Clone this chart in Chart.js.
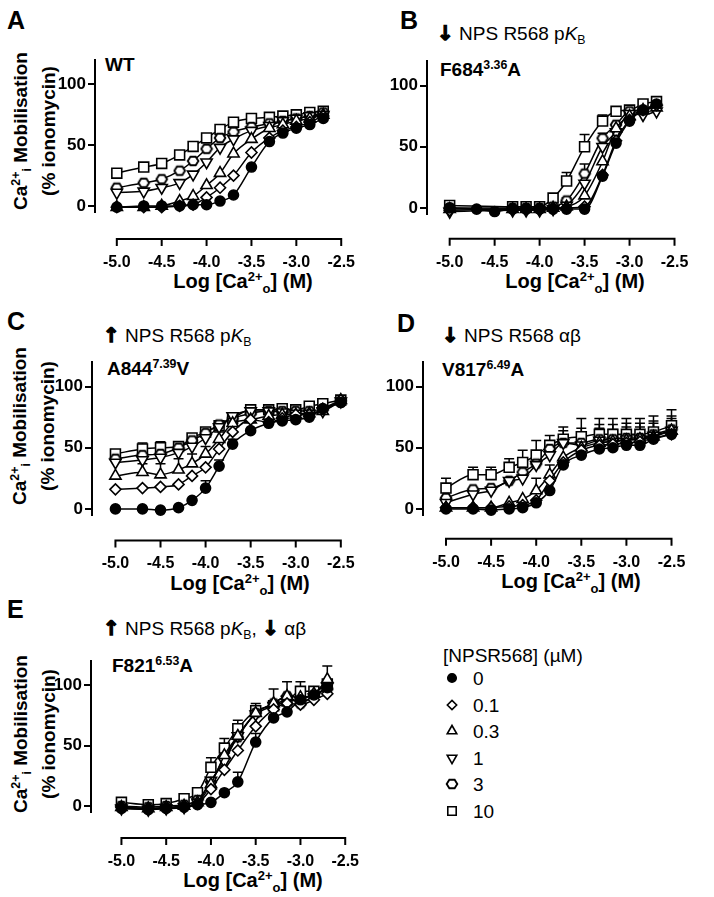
<!DOCTYPE html>
<html>
<head>
<meta charset="utf-8">
<script src="https://cdn.jsdelivr.net/npm/chart.js@4.4.1/dist/chart.umd.min.js"></script>
<style>
  body { margin: 0; background: #fff; width: 714px; height: 897px; position: relative; overflow: hidden;
         font-family: "Liberation Sans", Arial, sans-serif; color: #000; }
  canvas { position: absolute; }
  .t { position: absolute; line-height: 1; white-space: nowrap; transform: translateY(-50%); }
  .c { transform: translate(-50%, -50%); }
  .letter { font-size: 25px; font-weight: bold; }
  .note { font-size: 19px; }
  .arrow { font-family: "DejaVu Sans", sans-serif; font-weight: bold; font-size: 20px; -webkit-text-stroke: 1.3px #000; }
  .mut { font-size: 19px; font-weight: bold; }
  .xt { font-size: 20px; font-weight: bold; }
  .yt { font-size: 19px; font-weight: bold; text-align: center; line-height: 26px;
        transform: translate(-50%, -50%) rotate(-90deg); }
  sup { font-size: 0.65em; position: relative; top: -0.55em; vertical-align: baseline; }
  sub { font-size: 0.65em; position: relative; top: 0.35em; vertical-align: baseline; }
  .leg { font-size: 19px; }
</style>
</head>
<body>

<div class="t letter" style="left:7px;top:20px">A</div>
<div class="t letter" style="left:400px;top:20px">B</div>
<div class="t letter" style="left:7px;top:321px">C</div>
<div class="t letter" style="left:397px;top:323px">D</div>
<div class="t letter" style="left:7px;top:609px">E</div>

<div class="t note" style="left:437px;top:33px"><span class="arrow">↓</span> NPS R568 p<i>K</i><sub>B</sub></div>
<div class="t note" style="left:103px;top:335px"><span class="arrow">↑</span> NPS R568 p<i>K</i><sub>B</sub></div>
<div class="t note" style="left:442px;top:335px"><span class="arrow">↓</span> NPS R568 αβ</div>
<div class="t note" style="left:103px;top:628px"><span class="arrow">↑</span> NPS R568 p<i>K</i><sub>B</sub>, <span class="arrow">↓</span> αβ</div>

<div class="t mut" style="left:105px;top:64px">WT</div>
<div class="t mut" style="left:440px;top:69px">F684<sup>3.36</sup>A</div>
<div class="t mut" style="left:107px;top:368px">A844<sup>7.39</sup>V</div>
<div class="t mut" style="left:442px;top:369px">V817<sup>6.49</sup>A</div>
<div class="t mut" style="left:112px;top:665px">F821<sup>6.53</sup>A</div>

<div class="t yt" style="left:35px;top:131px">Ca<sup>2+</sup><sub>i</sub> Mobilisation<br>(% ionomycin)</div>
<div class="t yt" style="left:34px;top:426px">Ca<sup>2+</sup><sub>i</sub> Mobilisation<br>(% ionomycin)</div>
<div class="t yt" style="left:35px;top:734px">Ca<sup>2+</sup><sub>i</sub> Mobilisation<br>(% ionomycin)</div>

<div class="t c xt" style="left:243px;top:281px">Log [Ca<sup>2+</sup><sub>o</sub>] (M)</div>
<div class="t c xt" style="left:575px;top:281px">Log [Ca<sup>2+</sup><sub>o</sub>] (M)</div>
<div class="t c xt" style="left:240px;top:583px">Log [Ca<sup>2+</sup><sub>o</sub>] (M)</div>
<div class="t c xt" style="left:571px;top:581px">Log [Ca<sup>2+</sup><sub>o</sub>] (M)</div>
<div class="t c xt" style="left:253px;top:880px">Log [Ca<sup>2+</sup><sub>o</sub>] (M)</div>

<div class="t leg" style="left:443px;top:655px">[NPSR568] (µM)</div>
<div id="legendRows"></div>

<canvas id="chartA"></canvas>
<canvas id="chartB"></canvas>
<canvas id="chartC"></canvas>
<canvas id="chartD"></canvas>
<canvas id="chartE"></canvas>

<script>
// x values: log [Ca2+o] (M)
const logCa = [-5, -4.7, -4.5, -4.3, -4.15, -4, -3.85, -3.7, -3.5, -3.3, -3.15, -3, -2.85, -2.7];
const logCaLong = [-5, -4.7, -4.5, -4.3, -4.15, -4, -3.85, -3.7, -3.5, -3.3, -3.15, -3, -2.85, -2.7, -2.5];
const npsConc = ['0', '0.1', '0.3', '1', '3', '10'];
const xTicks = [-5, -4.5, -4, -3.5, -3, -2.5];
const yTicks = [0, 50, 100];

// A - WT
const wt0  = [-1, 0, 0, 0, 1, 1, 4, 9, 32, 53, 60, 64, 67, 72];
const wt01 = [-1, -1, -1, 0, 1, 7, 15, 25, 44, 56, 62, 65, 69, 74];
const wt03 = [-1, -1, 0, 4, 8, 17, 27, 43, 55, 64, 67, 70, 72, 75];
const wt1  = [11, 12, 15, 19, 26, 36, 48, 55, 62, 66, 70, 72, 74, 75];
const wt3  = [15, 19, 22, 29, 37, 47, 56, 61, 65, 68, 70, 72, 74, 77];
const wt10 = [27, 32, 35, 42, 49, 56, 63, 69, 72, 73, 74, 75, 77, 78];

// B - F684A
const f684_0  = [0, -1, -3, -1, -1, -1, -1, -1, -1, 26, 53, 71, 80, 85];
const f684_01 = [-2, null, null, -1, -1, -1, -1, 0, 1, 27, 55, 72, 80, 84];
const f684_03 = [-1, null, null, -1, -1, -1, 0, 1, 10, 38, 65, 75, 80, 82];
const f684_1  = [-3, null, null, -2, -2, -2, -1, 2, 20, 50, 62, 77, 76, 79];
const f684_3  = [0, null, null, 0, 0, 0, 1, 6, 28, 57, 68, 79, 80, 84];
const f684_10 = [2, null, null, 1, 1, 1, 8, 22, 50, 71, 79, 80, 85, 87];
const f684_3err  = [0, 0, 0, 0, 0, 0, 0, 2, 8, 4, 0, 0, 0, 0];
const f684_10err = [0, 0, 0, 0, 0, 0, 2, 7, 10, 5, 0, 0, 0, 0];

// C - A844V
const a844_0  = [0, 0, -1, 1, 7, 17, 35, 53, 64, 70, 72, 73, 75, 82, 87];
const a844_01 = [16, 17, 18, 20, 27, 34, 49, 63, 73, 71, 74, 77, 77, 82, 89];
const a844_03 = [27, 30, 28, 32, 37, 45, 57, 70, 73, 76, 77, 77, 78, 80, 89];
const a844_1  = [38, 40, 42, 46, 51, 58, 67, 76, 80, 80, 79, 78, 78, 80, 88];
const a844_3  = [41, 44, 45, 50, 56, 62, 69, 74, 78, 80, 80, 80, 80, 81, 88];
const a844_10 = [45, 49, 50, 51, 58, 63, 68, 74, 81, 81, 82, 81, 84, 86, 89];
const a844_0err  = [0, 0, 0, 0, 0, 6, 5, 4, 0, 0, 0, 0, 0, 0, 0];
const a844_01err = [0, 0, 0, 0, 0, 0, 6, 0, 0, 0, 0, 0, 0, 0, 0];
const a844_03err = [0, 7, 9, 9, 8, 6, 6, 4, 0, 0, 0, 0, 0, 0, 0];
const a844_10err = [3, 5, 5, 4, 3, 3, 3, 2, 0, 0, 0, 0, 0, 0, 0];

// D - V817A
const v817_0  = [0, 0, -1, 0, 1, 5, 15, 36, 44, 49, 50, 52, 52, 57, 61];
const v817_01 = [1, 1, 1, 2, 3, 7, 23, 38, 48, 52, 53, 54, 55, 58, 61];
const v817_03 = [1, 1, 1, 5, 8, 15, 28, 42, 50, 54, 55, 56, 57, 59, 64];
const v817_1  = [5, 12, 15, 23, 25, 36, 44, 54, 52, 56, 55, 57, 57, 60, 64];
const v817_3  = [9, 16, 17, 23, 30, 37, 49, 54, 54, 57, 57, 58, 58, 61, 65];
const v817_10 = [17, 28, 28, 34, 38, 44, 52, 57, 59, 61, 61, 61, 61, 63, 68];
const v817_03err = [0, 0, 0, 0, 0, 10, 8, 0, 0, 0, 0, 0, 0, 0, 0];
const v817_1err  = [0, 0, 0, 0, 0, 0, 6, 10, 10, 10, 10, 10, 10, 10, 10];
const v817_3err  = [0, 0, 0, 0, 0, 0, 0, 0, 12, 12, 12, 12, 12, 11, 11];
const v817_10err = [8, 6, 6, 7, 10, 12, 8, 10, 15, 13, 13, 13, 13, 13, 13];

// E - F821A
const f821_0  = [-2, -3, -2, -1, 1, 3, 11, 20, 53, 73, 78, 88, 92, 98];
const f821_01 = [-1, -2, -2, -1, 2, 14, 30, 46, 66, 80, 85, 84, 88, 93];
const f821_03 = [-1, -2, -1, 0, 3, 18, 42, 58, 77, 85, 91, 90, 93, 105];
const f821_1  = [-2, -3, -2, -1, 3, 21, 37, 58, 76, 83, 88, 87, 90, 99];
const f821_3  = [0, -1, 0, 1, 5, 20, 40, 57, 77, 85, 91, 85, 92, 97];
const f821_10 = [3, 1, 2, 6, 11, 32, 48, 64, 79, 83, 87, 95, 95, 101];
const f821_0err  = [0, 0, 0, 0, 0, 0, 0, 8, 7, 0, 0, 0, 0, 0];
const f821_03err = [0, 0, 0, 0, 0, 0, 0, 0, 0, 12, 12, 0, 0, 11];
const f821_10err = [0, 0, 0, 0, 0, 8, 8, 7, 6, 0, 0, 8, 0, 0];

const FONT = '"Liberation Sans", Arial, sans-serif';
Chart.defaults.font.family = FONT;
Chart.defaults.color = '#000';

// open hexagon marker for 3 uM
function hexMarker() {
  const c = document.createElement('canvas');
  c.width = 14; c.height = 14;
  const g = c.getContext('2d');
  g.beginPath();
  for (let i = 0; i < 6; i++) {
    const a = Math.PI / 3 * i;
    g.lineTo(7 + 5.3 * Math.cos(a), 7 + 4.9 * Math.sin(a));
  }
  g.closePath();
  g.fillStyle = '#fff'; g.fill();
  g.lineWidth = 1.9; g.strokeStyle = '#000'; g.stroke();
  return c;
}
const hex = hexMarker();

const markers = [
  { pointStyle: 'circle',   radius: 5,   rotation: 0,   fill: '#000' },
  { pointStyle: 'rectRot',  radius: 5.5, rotation: 0,   fill: '#fff' },
  { pointStyle: 'triangle', radius: 6.5, rotation: 0,   fill: '#fff' },
  { pointStyle: 'triangle', radius: 6.5, rotation: 180, fill: '#fff' },
  { pointStyle: hex,        radius: 5,   rotation: 0,   fill: '#fff' },
  { pointStyle: 'rect',     radius: 7,   rotation: 0,   fill: '#fff' }
];

/* Prism style detached x axis */
const prismAxis = {
  id: 'prismAxis',
  afterDraw(chart, args, opts) {
    const { ctx, chartArea, scales: { x } } = chart;
    const yLine = chartArea.bottom + opts.gap;
    ctx.save();
    ctx.strokeStyle = '#000';
    ctx.lineWidth = 2;
    ctx.beginPath();
    ctx.moveTo(x.getPixelForValue(xTicks[0]) - 1, yLine);
    ctx.lineTo(x.getPixelForValue(xTicks[xTicks.length - 1]) + 1, yLine);
    xTicks.forEach(v => {
      const px = x.getPixelForValue(v);
      ctx.moveTo(px, yLine);
      ctx.lineTo(px, yLine + 7);
    });
    ctx.stroke();
    ctx.restore();
  }
};

/* upper error bars (SEM) */
const errorBars = {
  id: 'errorBars',
  beforeDatasetsDraw(chart) {
    const { ctx, scales: { x, y } } = chart;
    ctx.save();
    ctx.strokeStyle = '#000';
    ctx.lineWidth = 1.5;
    chart.data.datasets.forEach(ds => {
      if (!ds.err) return;
      ds.data.forEach((p, i) => {
        const e = ds.err[i];
        if (!e || p.y == null) return;
        const px = x.getPixelForValue(p.x);
        const y0 = y.getPixelForValue(p.y);
        const y1 = y.getPixelForValue(p.y + e);
        ctx.beginPath();
        ctx.moveTo(px, y0); ctx.lineTo(px, y1);
        ctx.moveTo(px - 5, y1); ctx.lineTo(px + 5, y1);
        ctx.stroke();
      });
    });
    ctx.restore();
  }
};

function makePanel(id, box, xs, series, errs) {
  const cv = document.getElementById(id);
  const padTop = 8, padRight = 22, yW = 60, xH = 60;
  cv.width = Math.round(box.r - box.l + yW + padRight);
  cv.height = Math.round(box.b - box.t + padTop + xH);
  cv.style.left = Math.round(box.l - yW) + 'px';
  cv.style.top = Math.round(box.t - padTop) + 'px';

  new Chart(cv, {
    type: 'scatter',
    data: {
      datasets: series.map((vals, k) => ({
        label: npsConc[k],
        data: vals.map((v, i) => ({ x: xs[i], y: v })),
        err: errs[k],
        showLine: true,
        spanGaps: true,
        cubicInterpolationMode: 'monotone',
        borderColor: '#000',
        borderWidth: 1.5,
        pointStyle: markers[k].pointStyle,
        pointRotation: markers[k].rotation,
        pointRadius: markers[k].radius,
        pointBackgroundColor: markers[k].fill,
        pointBorderColor: '#000',
        pointBorderWidth: 1.6,
        clip: false
      }))
    },
    options: {
      responsive: false,
      animation: false,
      events: [],
      layout: { padding: { top: padTop, right: padRight, left: 0, bottom: 0 } },
      plugins: {
        legend: { display: false },
        tooltip: { enabled: false },
        prismAxis: { gap: box.gap }
      },
      scales: {
        x: {
          type: 'linear', min: box.xmin, max: -2.5,
          afterBuildTicks: s => { s.ticks = xTicks.map(v => ({ value: v })); },
          afterFit: s => { s.height = xH; },
          grid: { display: false },
          border: { display: false },
          ticks: {
            padding: box.gap + 6, maxRotation: 0, autoSkip: false, color: '#000',
            font: { size: 16, weight: 'bold' },
            callback: v => v.toFixed(1)
          }
        },
        y: {
          min: -5, max: 120,
          afterBuildTicks: s => { s.ticks = yTicks.map(v => ({ value: v })); },
          afterFit: s => { s.width = yW; },
          grid: { drawOnChartArea: false, drawTicks: true, tickLength: 7, color: '#000', lineWidth: 2 },
          border: { display: true, color: '#000', width: 2 },
          ticks: { padding: 2, color: '#000', font: { size: 17, weight: 'bold' } }
        }
      }
    },
    plugins: [prismAxis, errorBars]
  });
}

makePanel('chartA', { l: 95, t: 55.6, r: 366, b: 211.2, xmin: -5.243, gap: 27 },
  logCa, [wt0, wt01, wt03, wt1, wt3, wt10], []);
makePanel('chartB', { l: 427, t: 56.6, r: 696.7, b: 213.6, xmin: -5.252, gap: 24.7 },
  logCa, [f684_0, f684_01, f684_03, f684_1, f684_3, f684_10], [null, null, null, null, f684_3err, f684_10err]);
makePanel('chartC', { l: 91.7, t: 357.6, r: 363.3, b: 514.6, xmin: -5.26, gap: 25.4 },
  logCaLong, [a844_0, a844_01, a844_03, a844_1, a844_3, a844_10], [a844_0err, a844_01err, a844_03err, null, null, a844_10err]);
makePanel('chartD', { l: 423.3, t: 357.6, r: 693.3, b: 514.6, xmin: -5.255, gap: 23.7 },
  logCaLong, [v817_0, v817_01, v817_03, v817_1, v817_3, v817_10], [null, null, v817_03err, v817_1err, v817_3err, v817_10err]);
makePanel('chartE', { l: 90.7, t: 656.8, r: 368.3, b: 812.2, xmin: -5.34, gap: 26 },
  logCa, [f821_0, f821_01, f821_03, f821_1, f821_3, f821_10], [f821_0err, null, f821_03err, null, null, f821_10err]);

/* legend: marker drawn with Chart.js point renderer */
const rows = document.getElementById('legendRows');
npsConc.forEach((lab, k) => {
  const y = 678 + k * 26.6;
  const cv = document.createElement('canvas');
  cv.width = 18; cv.height = 18;
  cv.style.left = '443px';
  cv.style.top = Math.round(y - 9) + 'px';
  rows.appendChild(cv);
  const g = cv.getContext('2d');
  g.fillStyle = markers[k].fill;
  g.strokeStyle = '#000';
  g.lineWidth = 1.6;
  Chart.helpers.drawPoint(g, {
    pointStyle: markers[k].pointStyle,
    rotation: markers[k].rotation,
    radius: markers[k].radius * 0.85,
    borderWidth: 1.6
  }, 9, 9);
  const t = document.createElement('div');
  t.className = 't leg';
  t.style.left = '473px';
  t.style.top = y + 'px';
  t.textContent = lab;
  rows.appendChild(t);
});
</script>
</body>
</html>
